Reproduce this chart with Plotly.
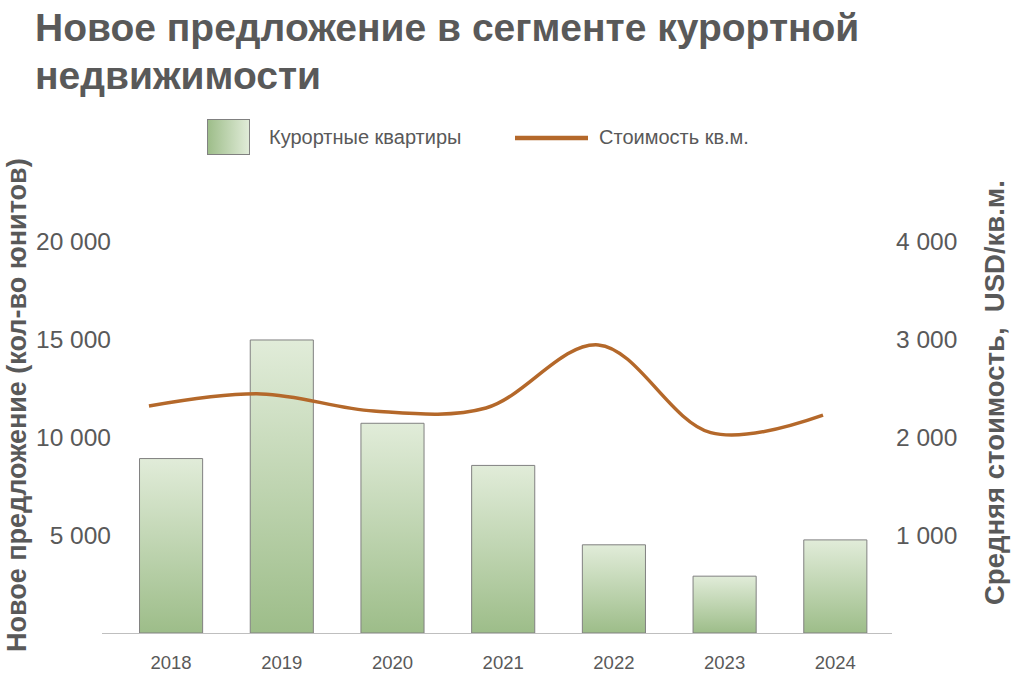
import base64
import plotly.graph_objects as go

# ---------------- data ----------------
years = ["2018", "2019", "2020", "2021", "2022", "2023", "2024"]
supply_units = [8900, 14950, 10700, 8550, 4500, 2900, 4750]
price_usd_sqm = [2316, 2440, 2265, 2296, 2940, 2045, 2224]
left_tick_vals = [5000, 10000, 15000, 20000]
right_tick_vals = [1000, 2000, 3000, 4000]

title_line1 = "Новое предложение в сегменте курортной"
title_line2 = "недвижимости"
bar_name = "Курортные квартиры"
line_name = "Стоимость кв.м."
left_title = "Новое предложение (кол-во юнитов)"
right_title = "Средняя стоимость,\u00a0 USD/кв.м."

# ---------------- style ----------------
FONT = "Liberation Sans, Arial, sans-serif"
GREY = "#595959"
BAR_DARK = "#9dbd89"
BAR_LIGHT = "#e1ecd9"
BAR_EDGE = "#808080"
LINE_COLOR = "#b4682a"
W, H = 1024, 695
L, R, T, B = 102, 892, 241, 633  # plot area in pixels
BAR_HALF = 0.285


def fmt(v):
    return f"{v:,}".replace(",", " ")


def px(x):  # pixel x -> paper
    return (x - L) / (R - L)


def py(y):  # pixel y -> paper
    return (B - y) / (B - T)


n = len(years)
idx = list(range(n))

fig = go.Figure()

for i, (yr, v) in enumerate(zip(years, supply_units)):
    fig.add_trace(go.Scatter(
        x=[i - BAR_HALF, i + BAR_HALF, i + BAR_HALF, i - BAR_HALF, i - BAR_HALF],
        y=[0, 0, v, v, 0],
        mode="lines",
        fill="toself",
        fillgradient=dict(type="vertical",
                          colorscale=[[0, BAR_DARK], [1, BAR_LIGHT]]),
        line=dict(color=BAR_EDGE, width=1),
        name=bar_name,
        showlegend=False,
        hovertemplate=f"{yr}: {fmt(v)}<extra></extra>",
    ))

fig.add_trace(go.Scatter(
    x=idx,
    y=price_usd_sqm,
    xaxis="x2",
    yaxis="y2",
    mode="lines",
    line=dict(color=LINE_COLOR, width=3.5, shape="spline", smoothing=1),
    name=line_name,
    showlegend=False,
    customdata=years,
    hovertemplate="%{customdata}: %{y}<extra></extra>",
))

# legend swatch (horizontal gradient) as an inline svg image
svg = (
    '<svg xmlns="http://www.w3.org/2000/svg" width="44" height="36">'
    '<defs><linearGradient id="g" x1="0" y1="0" x2="1" y2="0">'
    f'<stop offset="0" stop-color="{BAR_DARK}"/><stop offset="1" stop-color="{BAR_LIGHT}"/>'
    '</linearGradient></defs>'
    f'<rect x="0.5" y="0.5" width="43" height="35" fill="url(#g)" stroke="{BAR_EDGE}" stroke-width="1"/>'
    '</svg>'
)
src = "data:image/svg+xml;base64," + base64.b64encode(svg.encode()).decode()
fig.add_layout_image(dict(
    source=src, xref="paper", yref="paper",
    x=px(207), y=py(119), sizex=(250 - 207) / (R - L), sizey=(155 - 119) / (B - T),
    xanchor="left", yanchor="top", sizing="stretch", layer="above",
))

fig.add_shape(type="line", xref="paper", yref="paper",
              x0=px(515), x1=px(588), y0=py(138), y1=py(138),
              line=dict(color=LINE_COLOR, width=4.5))

annotations = [
    dict(text=f"<b>{title_line1}</b>", x=px(33), y=py(4), xanchor="left", yanchor="top",
         font=dict(size=39, color=GREY, family=FONT)),
    dict(text=f"<b>{title_line2}</b>", x=px(33), y=py(52), xanchor="left", yanchor="top",
         font=dict(size=39, color=GREY, family=FONT)),
    dict(text=bar_name, x=px(267), y=py(137), xanchor="left", yanchor="middle",
         font=dict(size=20, color=GREY, family=FONT)),
    dict(text=line_name, x=px(597), y=py(137), xanchor="left", yanchor="middle",
         font=dict(size=20, color=GREY, family=FONT)),
    dict(text=f"<b>{left_title}</b>", x=px(17), y=py(405), textangle=-90,
         xanchor="center", yanchor="middle",
         font=dict(size=27, color=GREY, family=FONT)),
    dict(text=f"<b>{right_title}</b>", x=px(994), y=py(393), textangle=-90,
         xanchor="center", yanchor="middle",
         font=dict(size=27.5, color=GREY, family=FONT)),
]
for a in annotations:
    a.update(xref="paper", yref="paper", showarrow=False)

fig.update_layout(
    width=W, height=H,
    margin=dict(l=L, r=W - R, t=T, b=H - B),
    paper_bgcolor="white", plot_bgcolor="white",
    showlegend=False,
    font=dict(family=FONT, color=GREY),
    annotations=annotations,
    xaxis=dict(
        range=[-0.624, n - 1 + 0.512],
        tickvals=idx, ticktext=years,
        showgrid=False, zeroline=False, showline=True, linecolor="#bfbfbf", linewidth=1,
        ticks="outside", ticklen=13, tickcolor="rgba(0,0,0,0)",
        tickfont=dict(size=18.5, color=GREY, family=FONT),
        fixedrange=True,
    ),
    xaxis2=dict(
        range=[-0.418, n - 1 + 0.614],
        overlaying="x", visible=False, fixedrange=True,
    ),
    yaxis=dict(
        range=[0, 20000], tickvals=left_tick_vals, ticktext=[fmt(v) for v in left_tick_vals],
        showgrid=False, zeroline=False, showline=False,
        ticklabelstandoff=-10,
        tickfont=dict(size=24.5, color=GREY, family=FONT),
        fixedrange=True,
    ),
    yaxis2=dict(
        range=[0, 4000], tickvals=right_tick_vals, ticktext=[fmt(v) for v in right_tick_vals],
        overlaying="y", side="right",
        showgrid=False, zeroline=False, showline=False,
        ticklabelstandoff=3,
        tickfont=dict(size=24.5, color=GREY, family=FONT),
        fixedrange=True,
    ),
)

# remove the browser's default page margin so the 1024x695 figure fills the window
fig.write_html("out.html", config={"displayModeBar": False},
               post_script="document.body.style.margin='0';")
